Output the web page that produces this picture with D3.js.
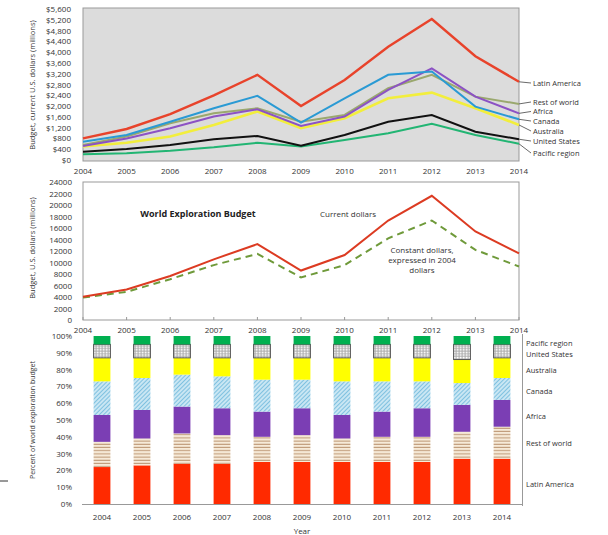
<!DOCTYPE html>
<meta charset="utf-8">
<style>
	body { margin:0; background:#fff; }
	svg { font-family:"Open Sans", "Liberation Sans", sans-serif; }
	.lbl { font-size:8px; fill:#333; }
	.leg { font-size:7.5px; fill:#333; }
</style>
<script src="https://d3js.org/d3.v7.min.js"></script>
<body>
<svg id="chart" width="608" height="535"></svg>
<script>
	var years = [2004,2005,2006,2007,2008,2009,2010,2011,2012,2013,2014];

	// top panel: budget by region, current US$ millions
	var latinAmerica = [800,1150,1700,2400,3160,2000,2970,4200,5230,3850,2900];
	var restOfWorld  = [560,870,1360,1730,1920,1420,1670,2660,3160,2350,2080];
	var africa       = [520,800,1180,1610,1880,1260,1610,2600,3400,2350,1730];
	var canada       = [680,930,1420,1920,2380,1390,2290,3160,3280,1980,1510];
	var australia    = [500,640,870,1300,1800,1180,1550,2290,2500,1920,1300];
	var unitedStates = [310,410,560,770,890,530,930,1420,1670,1050,770];
	var pacific      = [210,250,340,470,640,500,740,990,1340,930,600];

	// middle panel: world totals
	var currentDollars  = [4050,5300,7650,10550,13200,8600,11300,17300,21600,15400,11600];
	var constantDollars = [3900,4900,7100,9550,11500,7400,9550,14200,17300,12200,9300];

	// bottom panel: percent share per year
	var pctLatin   = [22,23,24,24,25,25,25,25,25,27,27];
	var pctRest    = [15,16,18,17,15,16,14,15,15,16,19];
	var pctAfrica  = [16,17,16,16,15,16,14,15,17,16,16];
	var pctCanada  = [20,19,19,19,19,17,20,18,16,13,13];
	var pctAustr   = [14,12,10,11,13,13,14,14,14,14,12];
	var pctUS      = [8,8,8,8,8,8,8,8,8,9,8];
	var pctPacific = [5,5,5,5,5,5,5,5,5,5,5];

	var topTicks = d3.range(0, 5601, 400);
	var midTicks = d3.range(0, 24001, 2000);
	var pctTicks = d3.range(0, 101, 10);

	var svg = d3.select("#chart");

	// patterns
	var defs = svg.append("defs");
	var p1 = defs.append("pattern").attr("id","stripes").attr("patternUnits","userSpaceOnUse")
		.attr("width",4).attr("height",3.2);
	p1.append("rect").attr("width",4).attr("height",3.2).attr("fill","#f6ead8");
	p1.append("rect").attr("y",2.2).attr("width",4).attr("height",0.9).attr("fill","#b58a66");
	var p2 = defs.append("pattern").attr("id","hatch").attr("patternUnits","userSpaceOnUse")
		.attr("width",3).attr("height",3).attr("patternTransform","rotate(-45)");
	p2.append("rect").attr("width",3).attr("height",3).attr("fill","#c9e6f3");
	p2.append("rect").attr("width",3).attr("height",0.8).attr("fill","#6db8dc");
	var p3 = defs.append("pattern").attr("id","grid").attr("patternUnits","userSpaceOnUse")
		.attr("width",3).attr("height",2.6);
	p3.append("rect").attr("width",3).attr("height",2.6).attr("fill","#aaa");
	p3.append("rect").attr("x",0.6).attr("y",0.6).attr("width",2).attr("height",1.6).attr("fill","#fff");

	// ---------- top panel ----------
	var xTop = d3.scaleLinear().domain([2004,2014]).range([83,519]);
	var yTop = d3.scaleLinear().domain([0,5600]).range([160,9]);

	svg.append("rect").attr("x",83).attr("y",8).attr("width",436).attr("height",153)
		.attr("fill","#dcdcdc").attr("stroke","#999").attr("stroke-width",1);

	svg.append("g").selectAll("text").data(topTicks).join("text")
		.attr("class","lbl").attr("x",71).attr("y", d => yTop(d)+3)
		.attr("text-anchor","end").text(d => "$" + d3.format(",")(d));
	svg.append("g").selectAll("text").data(years).join("text")
		.attr("class","lbl").attr("x", d => xTop(d)).attr("y",174)
		.attr("text-anchor","middle").text(d => d);
	svg.append("text").attr("class","lbl").attr("transform","translate(35,85) rotate(-90)")
		.attr("text-anchor","middle").style("font-size","7.5px").text("Budget, current U.S. dollars (millions)");

	var topSeries = [
		{name:"Pacific region", vals:pacific, color:"#22b573", ly:153},
		{name:"United States", vals:unitedStates, color:"#111", ly:141},
		{name:"Australia", vals:australia, color:"#f2ee3c", ly:131},
		{name:"Rest of world", vals:restOfWorld, color:"#9aa86e", ly:102},
		{name:"Africa", vals:africa, color:"#8c52c4", ly:111.5},
		{name:"Canada", vals:canada, color:"#2a9ad4", ly:121},
		{name:"Latin America", vals:latinAmerica, color:"#e8432b", ly:83}
	];
	var lineTop = d3.line().x((d,i) => xTop(years[i])).y(d => yTop(d));
	svg.append("g").selectAll("path").data(topSeries).join("path")
		.attr("d", d => lineTop(d.vals)).attr("fill","none")
		.attr("stroke", d => d.color)
		.attr("stroke-width", d => d.name == "Latin America" ? 2.4 : (d.name == "Australia" ? 2.6 : 2));
	topSeries.forEach(function(s) {
		var y0 = yTop(s.vals[s.vals.length-1]);
		svg.append("line").attr("x1",519).attr("y1",y0).attr("x2",531).attr("y2",s.ly)
			.attr("stroke","#444").attr("stroke-width",0.8);
		svg.append("text").attr("class","leg").attr("x",533).attr("y",s.ly+2.7).text(s.name);
	});

	// ---------- middle panel ----------
	var yMid = d3.scaleLinear().domain([0,24000]).range([320,182]);
	svg.append("rect").attr("x",83).attr("y",182).attr("width",436).attr("height",138)
		.attr("fill","#fff").attr("stroke","#999").attr("stroke-width",1);
	svg.append("g").selectAll("text").data(midTicks).join("text")
		.attr("class","lbl").attr("x",72).attr("y", d => yMid(d)+3)
		.attr("text-anchor","end").text(d => d);
	svg.append("g").selectAll("line").data(years).join("line")
		.attr("x1", d => xTop(d)).attr("x2", d => xTop(d)).attr("y1",317).attr("y2",320)
		.attr("stroke","#999");
	svg.append("g").selectAll("text").data(years).join("text")
		.attr("class","lbl").attr("x", d => xTop(d)).attr("y",333)
		.attr("text-anchor","middle").text(d => d);
	svg.append("text").attr("class","lbl").attr("transform","translate(35,248) rotate(-90)")
		.attr("text-anchor","middle").style("font-size","7.5px").text("Budget, U.S. dollars (millions)");

	var lineMid = d3.line().x((d,i) => xTop(years[i])).y(d => yMid(d));
	svg.append("path").attr("d", lineMid(constantDollars)).attr("fill","none")
		.attr("stroke","#6f9a3a").attr("stroke-width",2).attr("stroke-dasharray","7,5");
	svg.append("path").attr("d", lineMid(currentDollars)).attr("fill","none")
		.attr("stroke","#dc3b22").attr("stroke-width",2);

	svg.append("text").attr("x",198).attr("y",217).attr("text-anchor","middle")
		.style("font-size","9px").style("font-weight","bold").attr("fill","#222")
		.text("World Exploration Budget");
	svg.append("text").attr("class","lbl").attr("x",348).attr("y",217)
		.attr("text-anchor","middle").text("Current dollars");
	["Constant dollars,","expressed in 2004","dollars"].forEach(function(t,i) {
		svg.append("text").attr("class","lbl").attr("x",422).attr("y",253+i*10)
			.attr("text-anchor","middle").text(t);
	});

	// ---------- bottom panel ----------
	var xBar = d3.scaleBand().domain(years).range([82,522]).paddingInner(0.58).paddingOuter(0.29);
	var yBar = d3.scaleLinear().domain([0,100]).range([504,336]);

	var barSeries = [
		{name:"Latin America", vals:pctLatin, fill:"#ff2a00", ly:484},
		{name:"Rest of world", vals:pctRest, fill:"url(#stripes)", ly:443},
		{name:"Africa", vals:pctAfrica, fill:"#7b3eb4", ly:416},
		{name:"Canada", vals:pctCanada, fill:"url(#hatch)", ly:391},
		{name:"Australia", vals:pctAustr, fill:"#ffff00", ly:370},
		{name:"United States", vals:pctUS, fill:"url(#grid)", ly:354},
		{name:"Pacific region", vals:pctPacific, fill:"#00b050", ly:343}
	];
	var rows = years.map(function(y,i) {
		var r = {year:y};
		barSeries.forEach(s => r[s.name] = s.vals[i]);
		return r;
	});
	var stack = d3.stack().keys(barSeries.map(s => s.name));
	var stacked = stack(rows);

	svg.append("g").selectAll("g").data(stacked).join("g")
		.attr("fill", (d,i) => barSeries[i].fill)
		.attr("stroke", (d,i) => barSeries[i].name == "United States" ? "#555" : "none")
		.attr("stroke-width",1)
		.selectAll("rect").data(d => d).join("rect")
		.attr("x", d => xBar(d.data.year)).attr("width", xBar.bandwidth())
		.attr("y", d => yBar(d[1])).attr("height", d => yBar(d[0]) - yBar(d[1]));

	svg.append("line").attr("x1",82).attr("x2",522).attr("y1",504.5).attr("y2",504.5).attr("stroke","#999");
	svg.append("line").attr("x1",522.5).attr("x2",522.5).attr("y1",334).attr("y2",506).attr("stroke","#999");
	svg.append("g").selectAll("text").data(pctTicks).join("text")
		.attr("class","lbl").attr("x",72).attr("y", d => yBar(d)+3)
		.attr("text-anchor","end").text(d => d + "%");
	svg.append("g").selectAll("text").data(years).join("text")
		.attr("class","lbl").attr("x", d => xBar(d) + xBar.bandwidth()/2).attr("y",520)
		.attr("text-anchor","middle").text(d => d);
	svg.append("text").attr("class","lbl").attr("x",302).attr("y",534)
		.attr("text-anchor","middle").text("Year");
	svg.append("text").attr("class","lbl").attr("transform","translate(35,420) rotate(-90)")
		.attr("text-anchor","middle").style("font-size","7px").text("Percent of world exploration budget");
	svg.selectAll(".barleg").data(barSeries).join("text")
		.attr("class","leg").attr("x",526).attr("y", d => d.ly+3).text(d => d.name);

	// stray mark at left edge
	svg.append("line").attr("x1",0).attr("x2",8).attr("y1",481).attr("y2",481).attr("stroke","#333");
</script>
</body>
